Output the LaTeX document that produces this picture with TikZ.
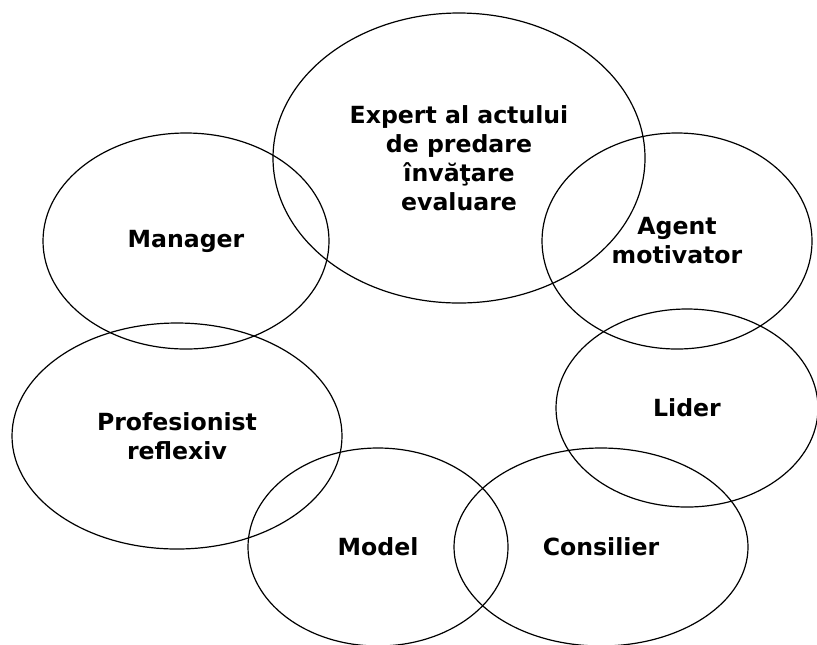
\documentclass[tikz,border=0pt]{standalone}
\usepackage{fontspec}
\setmainfont{DejaVu Sans}
\usetikzlibrary{shapes.geometric}
\tikzset{
  rol/.style = { draw, ellipse, line width=0.6pt, inner sep=0pt, align=center,
    font=\bfseries\fontsize{11.8}{14.5}\selectfont },
  rolsz/.style 2 args = { minimum width=#1pt, minimum height=#2pt }
}
\begin{document}
\begin{tikzpicture}[x=0.5pt,y=-0.5pt]
      \useasboundingbox (0,0) rectangle (817,644);
      % roluri ale profesorului
      \node[rol, rolsz={186}{145}] (expert) at (459,158) {Expert al actului\\de predare\\învăţare\\evaluare};
      \node[rol, rolsz={143}{108}] (manager) at (186,241) {Manager};
      \node[rol, rolsz={135}{108}] (agent) at (677,241) {Agent\\motivator};
      \node[rol, rolsz={131}{99}] (lider) at (687,408) {Lider};
      \node[rol, rolsz={165}{113}] (prof) at (177,436) {Profesionist\\reflexiv};
      \node[rol, rolsz={130}{99}] (model) at (378,547) {Model};
      \node[rol, rolsz={147}{99}] (consilier) at (601,547) {Consilier};
    \end{tikzpicture}
\end{document}
